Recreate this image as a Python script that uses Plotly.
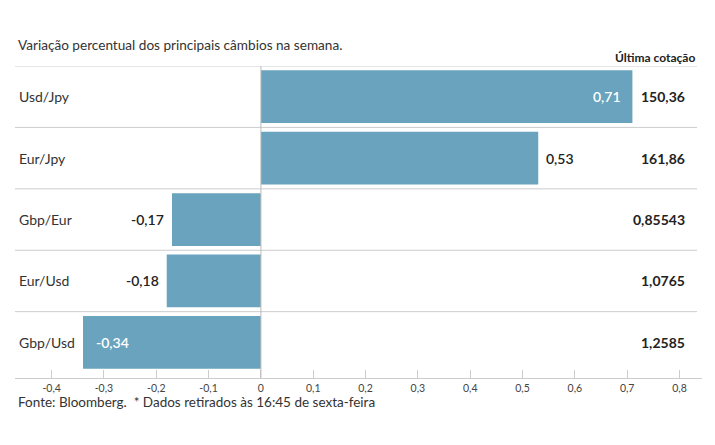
import plotly.graph_objects as go

categories = ["Usd/Jpy", "Eur/Jpy", "Gbp/Eur", "Eur/Usd", "Gbp/Usd"]
changes = [0.71, 0.53, -0.17, -0.18, -0.34]
change_labels = ["0,71", "0,53", "-0,17", "-0,18", "-0,34"]
label_inside = [True, False, False, False, True]
last_quotes = ["150,36", "161,86", "0,85543", "1,0765", "1,2585"]
tick_values = [-0.4, -0.3, -0.2, -0.1, 0, 0.1, 0.2, 0.3, 0.4, 0.5, 0.6, 0.7, 0.8]
tick_labels = ["-0,4", "-0,3", "-0,2", "-0,1", "0", "0,1", "0,2", "0,3", "0,4", "0,5", "0,6", "0,7", "0,8"]

FONT = "Lato"
BAR = "#69a3be"
DARK = "#222222"

fig = go.Figure()
fig.add_trace(go.Bar(
    x=changes, y=categories, orientation="h",
    marker=dict(color=BAR, line=dict(width=0)),
    width=0.86, cliponaxis=False, hoverinfo="skip",
))

W, H = 715, 445
L, R, T, B = 15, 13, 66, 67
pw = W - L - R
ph = H - T - B

def px_x(px):
    return (px - L) / pw

def px_y(py):
    return (H - B - py) / ph

shapes = []
for y in [-0.5, 0.5, 1.5, 2.5, 3.5]:
    shapes.append(dict(type="line", xref="paper", yref="y", x0=0, x1=px_x(697),
                       y0=y, y1=y, line=dict(color="#cccccc", width=1), layer="below"))
shapes.append(dict(type="line", xref="x", yref="paper", x0=0, x1=0, y0=0, y1=1,
                   line=dict(color="#bbbbbb", width=1), layer="above"))

annotations = []
for c, v, t, ins in zip(categories, changes, change_labels, label_inside):
    if ins:
        anchor = "right" if v > 0 else "left"
        shift = -9 if v > 0 else 11
        col = "white"
    else:
        anchor = "left" if v > 0 else "right"
        shift = 6 if v > 0 else -6
        col = DARK
    annotations.append(dict(xref="x", yref="y", x=v, y=c, text=t, xanchor=anchor,
                            xshift=shift, yanchor="middle", showarrow=False,
                            font=dict(family=FONT, size=14, color=col, weight=600)))
for c in categories:
    annotations.append(dict(xref="paper", yref="y", x=px_x(17), y=c, text=c,
                            xanchor="left", yanchor="middle", showarrow=False,
                            font=dict(family=FONT, size=14, color="#333333")))
for c, q in zip(categories, last_quotes):
    annotations.append(dict(xref="paper", yref="y", x=px_x(687), y=c, text=q,
                            xanchor="right", yanchor="middle", showarrow=False,
                            font=dict(family=FONT, size=14, color=DARK, weight="bold")))
annotations.append(dict(xref="paper", yref="paper", x=px_x(697), y=px_y(57),
                        text="Última cotação", xanchor="right", yanchor="middle",
                        showarrow=False, font=dict(family=FONT, size=12, color=DARK, weight="bold")))
annotations.append(dict(xref="paper", yref="paper", x=px_x(16), y=px_y(45),
                        text="Variação percentual dos principais câmbios na semana.",
                        xanchor="left", yanchor="middle", showarrow=False,
                        font=dict(family=FONT, size=13.6, color="#333333")))
annotations.append(dict(xref="paper", yref="paper", x=px_x(16), y=px_y(402),
                        text="Fonte: Bloomberg.  * Dados retirados às 16:45 de sexta-feira",
                        xanchor="left", yanchor="middle", showarrow=False,
                        font=dict(family=FONT, size=13.5, color="#333333")))

fig.update_layout(
    width=W, height=H,
    margin=dict(l=L, r=R, t=T, b=B, pad=0),
    paper_bgcolor="white", plot_bgcolor="white",
    showlegend=False,
    font=dict(family=FONT, color="#444444"),
    shapes=shapes, annotations=annotations,
    xaxis=dict(range=[-0.470, 0.843], tickvals=tick_values, ticktext=tick_labels,
               showgrid=False, zeroline=False, showline=True, linecolor="#cccccc",
               linewidth=1, ticks="inside", ticklen=8, tickcolor="#cccccc",
               tickfont=dict(family=FONT, size=10.5, color="#444444"), fixedrange=True),
    yaxis=dict(categoryorder="array", categoryarray=categories,
               range=[4.58, -0.5], showticklabels=False, showgrid=False,
               zeroline=False, showline=False, ticks="", fixedrange=True),
)

fig.write_html("out.html")
